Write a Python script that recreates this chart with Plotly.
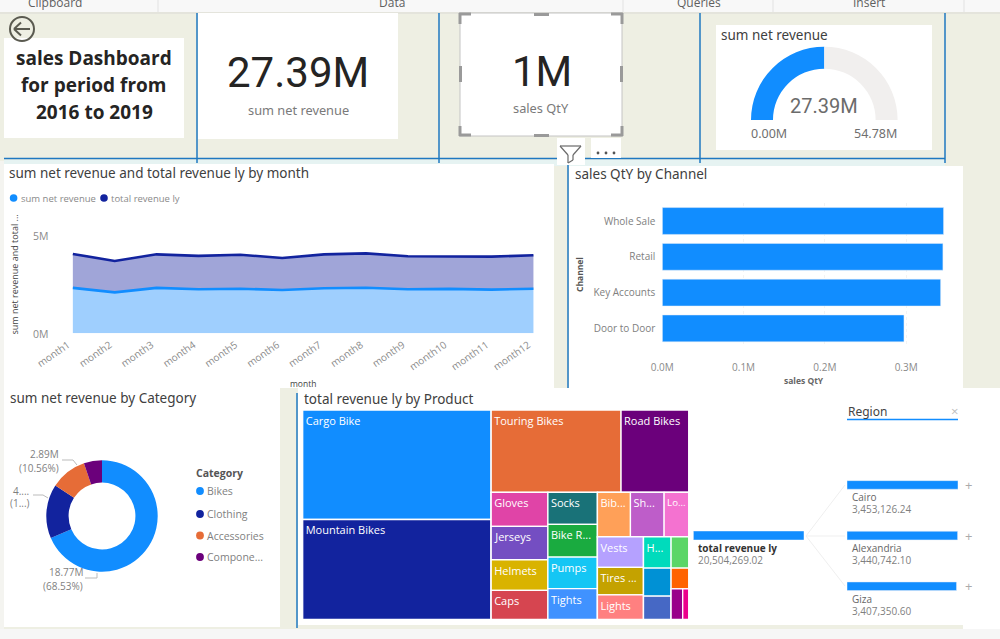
import plotly.graph_objects as go

# ---------- data ----------
months = [f"month{i}" for i in range(1, 13)]
net_revenue = [2.34e6, 2.11e6, 2.34e6, 2.27e6, 2.30e6, 2.23e6, 2.32e6, 2.35e6, 2.27e6, 2.29e6, 2.25e6, 2.30e6]
total_ly = [4.09e6, 3.73e6, 4.07e6, 3.99e6, 4.05e6, 3.88e6, 4.07e6, 4.12e6, 3.97e6, 3.97e6, 3.95e6, 4.02e6]

channels = ["Whole Sale", "Retail", "Key Accounts", "Door to Door"]
channel_qty = [346000, 345200, 342400, 297300]

categories = ["Bikes", "Clothing", "Accessories", "Components"]
category_revenue = [18.77, 4.29, 2.89, 1.44]
category_colors = ["#118DFF", "#12239E", "#E66C37", "#6B007B"]

gauge_value = 27.39
gauge_max = 54.78

regions = ["Cairo", "Alexandria", "Giza"]
region_values = [3453126.24, 3440742.10, 3407350.60]
root_value = 20504269.02

# treemap: node id, parent id, shown text, value, colour
tm_ids = ["root", "A", "B", "B1", "B2", "c1", "c2", "c3", "r1", "r2", "v", "w", "w2", "a", "b",
          "Cargo Bike", "Mountain Bikes", "Touring Bikes", "Road Bikes",
          "Gloves", "Jerseys", "Helmets", "Caps",
          "Socks", "Bike Racks", "Pumps", "Tights",
          "Bibs", "Shorts", "Locks",
          "Vests", "Tires", "Lights",
          "Hydration", "Fenders", "Brakes",
          "Wheels", "Chains", "m", "Pedals", "Saddles"]
tm_parents = ["", "root", "root", "B", "B", "B2", "B2", "B2", "c3", "c3", "r2", "r2", "w", "w2", "w2",
              "A", "A", "B1", "B1",
              "c1", "c1", "c1", "c1",
              "c2", "c2", "c2", "c2",
              "r1", "r1", "r1",
              "v", "v", "v",
              "a", "a", "a",
              "b", "b", "b", "m", "m"]
tm_text = [""] * 15 + ["Cargo Bike", "Mountain Bikes", "Touring Bikes", "Road Bikes",
                       "Gloves", "Jerseys", "Helmets", "Caps",
                       "Socks", "Bike R...", "Pumps", "Tights",
                       "Bib...", "Sh...", "Lo...",
                       "Vests", "Tires ...", "Lights",
                       "H...", "", "",
                       "", "", "", "", ""]
tm_values = [0] * 15 + [20640, 18812, 10699, 5572,
                        1928, 1894, 1735, 1644,
                        1584, 1619, 1569, 1515,
                        1470, 1500, 1095,
                        1408, 1264, 1125,
                        859, 776, 637,
                        549, 366, 0, 354, 182]
tm_colors = ["white"] * 15 + ["#118DFF", "#12239E", "#E66C37", "#6B007B",
                              "#E044A7", "#744EC2", "#D9B300", "#D64550",
                              "#197278", "#1AAB40", "#15C6F4", "#4092FF",
                              "#FFA058", "#BE5DC9", "#F472D0",
                              "#B5A1FF", "#C4A200", "#FF8080",
                              "#00DBBC", "#0091D5", "#4668C5",
                              "#5BD667", "#FF6300", "white", "#99008A", "#EC008C"]

# ---------- helpers ----------
W, H = 1000, 639
BG = "#EEEFE3"
BLUE = "#118DFF"
EDGE = "#1F78C1"
TITLE_FONT = "Noto Sans"
BODY_FONT = "Open Sans"
KPI_FONT = "Roboto"
TITLE_SIZE = 13.5
TITLE_COLOR = "#404040"


def X(px):
    return px / W


def Y(py):
    return 1 - py / H


def dom_x(a, b):
    return [X(a), X(b)]


def dom_y(top, bottom):
    return [Y(bottom), Y(top)]


shapes = []
annotations = []


def rect(x0, y0, x1, y1, fill, line=None, width=0):
    shapes.append(dict(type="rect", xref="paper", yref="paper", x0=X(x0), x1=X(x1), y0=Y(y0), y1=Y(y1),
                       fillcolor=fill, line=dict(color=line or fill, width=width), layer="below"))


def seg(x0, y0, x1, y1, color, width=1, layer="below"):
    shapes.append(dict(type="line", xref="paper", yref="paper", x0=X(x0), x1=X(x1), y0=Y(y0), y1=Y(y1),
                       line=dict(color=color, width=width), layer=layer))


def dot(cx, cy, r, color, line=None, width=0, layer="above"):
    shapes.append(dict(type="circle", xref="paper", yref="paper", x0=X(cx - r), x1=X(cx + r), y0=Y(cy - r), y1=Y(cy + r),
                       fillcolor=color, line=dict(color=line or color, width=width), layer=layer))


def label(text, x, y, size=11, color="#7F7F7F", anchor="left", font=BODY_FONT, angle=0):
    annotations.append(dict(text=text, xref="paper", yref="paper", x=X(x), y=Y(y), showarrow=False,
                            xanchor=anchor, yanchor="middle", textangle=angle, align=anchor,
                            font=dict(size=size, color=color, family=font), borderpad=0))


# ---------- page furniture ----------
rect(0, 0, 1000, 12, "#F8F8F8")
rect(0, 12, 1000, 14, "#E4E4DC")
for sx in [158, 623, 773, 964]:
    seg(sx, 0, sx, 12, "#E2E2E2")
label("Clipboard", 55, 3, 12, "#5F5F5F", "center")
label("Data", 392, 3, 12, "#5F5F5F", "center")
label("Queries", 699, 3, 12, "#5F5F5F", "center")
label("Insert", 869, 3, 12, "#5F5F5F", "center")

rect(4, 160, 945, 166, "#E6F3F2")
rect(554, 166, 568, 388, BG)
rect(0, 161, 4, 629, "#F4F4F0")
rect(4, 38, 184, 138, "white")
rect(198, 13, 398, 139, "white")
rect(460, 13, 622, 136, "white", "#C4C4C4", 1)
rect(716, 25, 932, 150, "white")
rect(4, 164, 554, 388, "white")
rect(569, 166, 963, 388, "white")
rect(4, 388, 280, 627, "white")
rect(298, 388, 1000, 625, "white")
rect(963, 388, 1000, 639, "white")
rect(0, 629, 1000, 639, "#F6F6F6")

# blue frame lines
seg(4, 158.5, 945, 158.5, EDGE, 1.5)
for vx in [197, 439, 700, 945]:
    seg(vx, 13, vx, 163, EDGE, 1.5)
seg(568, 164, 568, 388, EDGE, 1.5)
seg(297, 393, 297, 628, EDGE, 1.5)

# back button
dot(22, 29, 12, "rgba(0,0,0,0)", "#5A5A50", 2)
seg(14, 29, 30, 29, "#5A5A50", 2, "above")
seg(14, 29, 21, 22.5, "#5A5A50", 2, "above")
seg(14, 29, 21, 35.5, "#5A5A50", 2, "above")

# selection handles
HANDLE = "#9A9A9A"
for a, b, c, d in [(459, 14, 471, 14), (460, 13, 460, 24), (611, 14, 623, 14), (622, 13, 622, 24),
                   (459, 135, 471, 135), (460, 126, 460, 136), (611, 135, 623, 135), (622, 126, 622, 136),
                   (534, 14.5, 549, 14.5), (534, 135.5, 549, 135.5), (460.5, 66, 460.5, 82), (621.5, 66, 621.5, 82)]:
    seg(a, b, c, d, HANDLE, 3)

# filter + more buttons
rect(557, 138, 585, 165, "white")
rect(591, 138, 621, 158, "white")
seg(560, 146, 581, 146, "#6A6A6A", 1.2, "above")
seg(560, 146, 568, 155, "#6A6A6A", 1.2, "above")
seg(581, 146, 573, 155, "#6A6A6A", 1.2, "above")
seg(568, 155, 568, 163, "#6A6A6A", 1.2, "above")
seg(573, 155, 573, 160, "#6A6A6A", 1.2, "above")
seg(568, 163, 573, 160, "#6A6A6A", 1.2, "above")
for dx in [598, 606, 614]:
    dot(dx, 153, 1.4, "#555555")

# ---------- texts ----------
label("<b>sales Dashboard</b>", 94, 58, 19, "#252423", "center", "Open Sans")
label("<b>for period from</b>", 94, 85, 19, "#252423", "center", "Open Sans")
label("<b>2016 to 2019</b>", 94, 112, 19, "#252423", "center", "Open Sans")
label("27.39M", 298, 73, 42, "#252423", "center", KPI_FONT)
label("sum net revenue", 298, 110, 12.8, "#7A7A7A", "center", TITLE_FONT)
label("1M", 541.5, 71, 42, "#252423", "center", KPI_FONT)
label("sales QtY", 541, 108, 12.8, "#7A7A7A", "center", TITLE_FONT)

label("sum net revenue", 720, 34.5, TITLE_SIZE, TITLE_COLOR, "left", TITLE_FONT)
label(f"{gauge_value:.2f}M", 824, 106.5, 20, "#6B6B6B", "center", KPI_FONT)
label("0.00M", 769, 133, 12.5, "#6F6F6F", "center", TITLE_FONT)
label(f"{gauge_max:.2f}M", 875, 133, 12.5, "#6F6F6F", "center", TITLE_FONT)

label("sum net revenue and total revenue ly by month", 8, 173, TITLE_SIZE, TITLE_COLOR, "left", TITLE_FONT)
dot(13.6, 198, 3.8, BLUE)
label("sum net revenue", 19.5, 198, 9.5, "#8A8A8A")
dot(104, 198, 3.8, "#12239E")
label("total revenue ly", 110, 198, 9.5, "#8A8A8A")
label("5M", 40, 236, 10.5, "#8A8A8A", "center")
label("0M", 40, 333.5, 10.5, "#8A8A8A", "center")
label("sum net revenue and total ...", 13.6, 275, 9, "#444444", "center", angle=-90)
label("month", 303, 383, 8.5, "#444444", "center")

label("sales QtY by Channel", 574, 174, TITLE_SIZE, TITLE_COLOR, "left", TITLE_FONT)
label("<b>sales QtY</b>", 804, 381, 8.5, "#666666", "center")
label("<b>Channel</b>", 579, 275, 8.5, "#555555", "center", angle=-90)

label("sum net revenue by Category", 9, 398, TITLE_SIZE, TITLE_COLOR, "left", TITLE_FONT)
label("2.89M", 44, 454, 10, "#7F7F7F", "center")
label("(10.56%)", 39, 468, 10, "#7F7F7F", "center")
label("4....", 21, 491, 10, "#7F7F7F", "center")
label("(1...)", 20, 503, 10, "#7F7F7F", "center")
label("18.77M", 66, 572, 10, "#7F7F7F", "center")
label("(68.53%)", 63, 586, 10, "#7F7F7F", "center")
seg(62, 460, 73, 460, "#BBBBBB")
seg(73, 460, 77, 465, "#BBBBBB")
seg(33, 495, 43, 495, "#BBBBBB")
seg(43, 495, 48, 498, "#BBBBBB")
seg(85, 578, 97, 578, "#BBBBBB")
seg(97, 578, 97, 573, "#BBBBBB")
label("<b>Category</b>", 195, 473, 10.5, "#555555")
for name, color, ly in zip(["Bikes", "Clothing", "Accessories", "Compone..."], category_colors, [491, 514, 535.5, 557]):
    dot(200, ly, 3.9, color)
    label(name, 206, ly, 10.5, "#7F7F7F")

label("total revenue ly by Product", 303, 398.5, TITLE_SIZE, TITLE_COLOR, "left", TITLE_FONT)

# decomposition tree texts and connectors
label("Region", 847, 411, 12, "#444444", "left", TITLE_FONT)
seg(847, 419.5, 958, 419.5, BLUE, 1.5)
label("×", 954, 411, 13, "#BDBDBD", "center")
label("<b>total revenue ly</b>", 697, 548, 10, "#333333")
label(f"{root_value:,.2f}", 697, 560, 10, "#7F7F7F")
for name, val, ly, py in zip(regions, region_values, [497, 548, 599], [485, 536, 586]):
    label(name, 851, ly, 10, "#666666")
    label(f"{val:,.2f}", 851, ly + 12, 10, "#7F7F7F")
    label("+", 968, py, 13, "#ABABAB", "center")
    seg(806, 536, 845, py, "#EFEFEF")

# ---------- traces ----------
fig = go.Figure()

fig.add_trace(go.Scatter(x=months, y=net_revenue, mode="lines", fill="tozeroy", fillcolor="#9FCFFE",
                         line=dict(color=BLUE, width=2.6), xaxis="x", yaxis="y", showlegend=False, name="sum net revenue"))
fig.add_trace(go.Scatter(x=months, y=total_ly, mode="lines", fill="tonexty", fillcolor="#A0A5D8",
                         line=dict(color="#12239E", width=2.6), xaxis="x", yaxis="y", showlegend=False, name="total revenue ly"))

fig.add_trace(go.Bar(y=channels, x=channel_qty, orientation="h", marker=dict(color=BLUE), width=0.75,
                     xaxis="x2", yaxis="y2", showlegend=False, name="sales QtY"))

fig.add_trace(go.Bar(y=["total revenue ly"], x=[root_value], orientation="h", marker=dict(color=BLUE), width=1,
                     xaxis="x3", yaxis="y3", showlegend=False))
fig.add_trace(go.Bar(y=regions, x=region_values, orientation="h", marker=dict(color=BLUE), width=0.17,
                     xaxis="x4", yaxis="y4", showlegend=False))

# donut: radius 55.7 px around (102, 516)
fig.add_trace(go.Pie(labels=categories, values=category_revenue, hole=0.6, sort=False, direction="clockwise", rotation=0,
                     marker=dict(colors=category_colors, line=dict(width=0)), textinfo="none", showlegend=False,
                     domain=dict(x=dom_x(46.3, 157.7), y=dom_y(460.3, 571.7))))

# gauge: half-visible ring, radius 73.3 px around (824.3, 120)
fig.add_trace(go.Pie(values=[gauge_value, gauge_max - gauge_value, gauge_max], hole=0.7, sort=False, direction="clockwise",
                     rotation=-90, marker=dict(colors=[BLUE, "#F1EFEE", "rgba(0,0,0,0)"], line=dict(width=0)),
                     textinfo="none", showlegend=False, hoverinfo="skip",
                     domain=dict(x=dom_x(751, 897.6), y=dom_y(46.7, 193.3))))

fig.add_trace(go.Treemap(ids=tm_ids, labels=tm_ids, parents=tm_parents, values=tm_values, text=tm_text,
                         branchvalues="remainder", sort=False, textinfo="text", textposition="top left",
                         textfont=dict(size=11, color="white", family=BODY_FONT),
                         marker=dict(colors=tm_colors, line=dict(color="white", width=1.3),
                                     pad=dict(t=0, l=0, r=0, b=0), depthfade=False),
                         tiling=dict(packing="slice-dice", pad=0), pathbar=dict(visible=False),
                         domain=dict(x=dom_x(302.7, 688.7), y=dom_y(410, 619.3)), hoverinfo="label+value"))

fig.update_layout(
    width=W, height=H, margin=dict(l=0, r=0, t=0, b=0, autoexpand=False), autosize=False,
    paper_bgcolor=BG, plot_bgcolor="rgba(0,0,0,0)",
    shapes=shapes, annotations=annotations,
    xaxis=dict(domain=dom_x(60.7, 546), type="category", range=[-0.29, 11.3], showgrid=False, zeroline=False,
               showline=False, tickangle=-35, tickfont=dict(size=10, color="#8A8A8A", family=BODY_FONT), ticks="",
               anchor="y", automargin=False, ticklabelstandoff=3, ticklabelshift=-5),
    yaxis=dict(domain=dom_y(236.3, 333.3), range=[0, 5e6], tickvals=[0, 5e6], showticklabels=False,
               gridcolor="#D8D8D8", griddash="dot", zeroline=False, showline=False, anchor="x", automargin=False),
    xaxis2=dict(domain=dom_x(662.3, 946), range=[0, 349000], tickvals=[0, 100000, 200000, 300000],
                ticktext=["0.0M", "0.1M", "0.2M", "0.3M"], tickfont=dict(size=10, color="#8A8A8A", family=BODY_FONT),
                gridcolor="#F3F3F3", griddash="dot", zeroline=False, showline=False, ticks="", anchor="y2",
                ticklabelstandoff=14, automargin=False),
    yaxis2=dict(domain=dom_y(203.1, 346.3), type="category", categoryorder="array", categoryarray=channels[::-1],
                range=[-0.5, 3.5], tickfont=dict(size=10, color="#808080", family=BODY_FONT), ticks="",
                showgrid=False, zeroline=False, showline=False, anchor="x2", ticklabelstandoff=6, automargin=False),
    xaxis3=dict(domain=dom_x(693.3, 804), range=[0, root_value], visible=False, anchor="y3", automargin=False),
    yaxis3=dict(domain=dom_y(531, 540), type="category", range=[-0.5, 0.5], visible=False, anchor="x3", automargin=False),
    xaxis4=dict(domain=dom_x(847, 958), range=[0, max(region_values)], visible=False, anchor="y4", automargin=False),
    yaxis4=dict(domain=dom_y(459.6, 611.6), type="category", categoryorder="array", categoryarray=regions[::-1],
                range=[-0.5, 2.5], visible=False, anchor="x4", automargin=False),
)

fig.write_html("out.html", config={"displayModeBar": False},
               post_script="document.body.style.margin='0';document.body.style.overflow='hidden';")
